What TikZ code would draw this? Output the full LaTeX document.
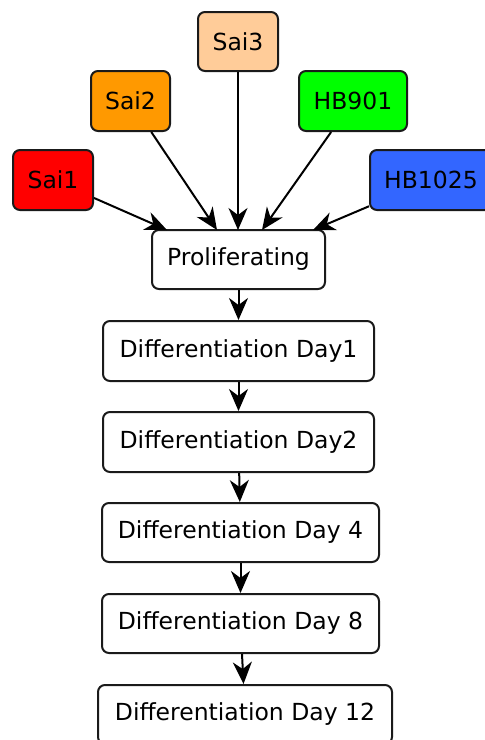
\documentclass[tikz,border=0pt]{standalone}
\usepackage{fontspec}
\setmainfont{DejaVu Sans}
\usetikzlibrary{arrows.meta}
\definecolor{csaione}{HTML}{FF0000}
\definecolor{csaitwo}{HTML}{FF9900}
\definecolor{csaithree}{HTML}{FFCC99}
\definecolor{chbnine}{HTML}{00FF00}
\definecolor{chbten}{HTML}{3366FF}
\definecolor{edgec}{HTML}{1A1A1A}
\tikzset{
  box/.style={draw=edgec, line width=2pt, rounded corners=7pt, inner sep=0pt,
    minimum height=59pt, font=\fontsize{23.5}{27}\selectfont, fill=white},
  link/.style={draw=black, line width=2pt, -{Stealth[length=22pt,width=19pt,inset=7pt]}},
}
\begin{document}
\begin{tikzpicture}[x=1pt,y=-1pt]
\useasboundingbox (0,0) rectangle (485,740);
\clip (0,0) rectangle (485,740);
\node[box, fill=csaithree, minimum width=80pt] (sai3) at (238,41.5) {Sai3};
\node[box, fill=csaitwo, minimum width=79pt, minimum height=60pt] (sai2) at (130.5,101) {Sai2};
\node[box, fill=chbnine, minimum width=108pt, minimum height=60pt] (hb901) at (353,101) {HB901};
\node[box, fill=csaione, minimum width=80pt, minimum height=60pt] (sai1) at (53,180) {Sai1};
\node[box, fill=chbten, minimum width=122pt, minimum height=60pt] (hb1025) at (431,180) {HB1025};
\node[box, minimum width=173pt] (prol) at (238.5,259.5) {Proliferating};
\node[box, minimum width=271pt, minimum height=60pt] (d1) at (238.5,351) {Differentiation Day1};
\node[box, minimum width=271pt, minimum height=60pt] (d2) at (238.5,442) {Differentiation Day2};
\node[box, minimum width=277pt] (d4) at (240.5,532.5) {Differentiation Day 4};
\node[box, minimum width=277pt] (d8) at (240.5,623.5) {Differentiation Day 8};
\node[box, minimum width=294pt] (d12) at (245,714.5) {Differentiation Day 12};
\coordinate (t1) at (167,230);
\coordinate (t2) at (217,230);
\coordinate (t3) at (238,230);
\coordinate (t4) at (262,230);
\coordinate (t5) at (313,230);
\draw[link] (sai1) -- (t1);
\draw[link] (sai2) -- (t2);
\draw[link] (sai3) -- (t3);
\draw[link] (hb901) -- (t4);
\draw[link] (hb1025) -- (t5);
\draw[link] (prol) -- (d1);
\draw[link] (d1) -- (d2);
\draw[link] (d2) -- (d4);
\draw[link] (d4) -- (d8);
\draw[link] (d8) -- (d12);
\end{tikzpicture}
\end{document}
